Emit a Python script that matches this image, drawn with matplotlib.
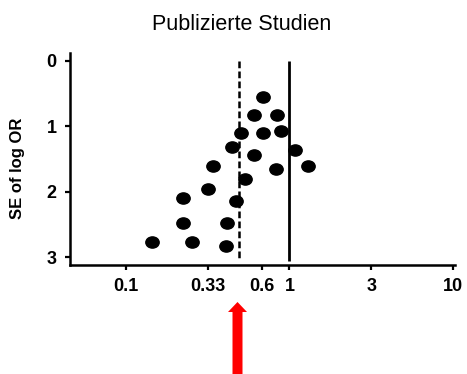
import matplotlib
matplotlib.use("Agg")
import matplotlib.pyplot as plt
import matplotlib.patches as patches
from matplotlib.path import Path
from matplotlib.transforms import IdentityTransform
import numpy as np

# study odds ratios and standard errors of log OR
odds_ratio = [0.145, 0.223, 0.224, 0.254, 0.316, 0.340, 0.444, 0.414, 0.410, 0.469, 0.504,
              0.686, 0.607, 0.835, 0.686, 0.891, 1.08, 0.607, 0.827, 1.30, 0.537]
se_log_or = [2.76, 2.10, 2.48, 2.76, 1.96, 1.60, 1.32, 2.48, 2.83, 2.14, 1.10,
             0.55, 0.83, 0.83, 1.10, 1.07, 1.36, 1.44, 1.65, 1.61, 1.80]
pooled_or = 0.494
null_or = 1.0

x_ticks = [0.1, 0.316, 0.68, 1, 3.16, 10]
x_tick_labels = ["0.1", "0.33", "0.6", "1", "3", "10"]
y_ticks = [0, 1, 2, 3]

plt.rcParams['font.family'] = ['Liberation Sans', 'DejaVu Sans']

fig = plt.figure(figsize=(4.67, 3.74), dpi=100)
ax = fig.add_axes([0.150, 0.291, 0.824, 0.567])

# slightly flattened dots, like in the original
circ = Path.unit_circle()
dot = Path(circ.vertices * np.array([1.0, 0.84]), circ.codes)

ax.plot(odds_ratio, se_log_or, ls='none', marker=dot, ms=9.6, color='black', zorder=3)
ax.vlines(null_or, 0, 3.05, color='black', lw=2.0)
ax.vlines(pooled_or, 0, 3.05, color='black', lw=1.8, linestyles=(0, (2.7, 1.3)))

ax.set_xscale('log')
ax.set_xlim(10**-1.34, 10**1.01)
ax.set_ylim(3.12, -0.12)
ax.set_xticks(x_ticks)
ax.set_xticklabels(x_tick_labels)
ax.xaxis.set_minor_locator(matplotlib.ticker.NullLocator())
ax.set_yticks(y_ticks)

for side in ['top', 'right']:
    ax.spines[side].set_visible(False)
for side in ['left', 'bottom']:
    ax.spines[side].set_linewidth(1.8)
ax.tick_params(axis='both', length=3.6, width=1.6, pad=6, labelsize=13)
for lab in ax.get_xticklabels() + ax.get_yticklabels():
    lab.set_fontweight('bold')

ax.set_ylabel("SE of log OR", fontsize=12, fontweight='bold')
ax.yaxis.set_label_coords(-0.117, 0.458)

fig.text(0.517, 0.92, "Publizierte Studien", fontsize=15.5, ha='center', va='baseline')

# red arrow pointing at the pooled estimate (in pixels)
arrow = patches.FancyArrow(237.5, 0, 0, 72, width=10, head_width=19, head_length=10,
                           length_includes_head=True, color='red', lw=0,
                           transform=IdentityTransform())
fig.add_artist(arrow)

fig.savefig("out.png", dpi=100)
